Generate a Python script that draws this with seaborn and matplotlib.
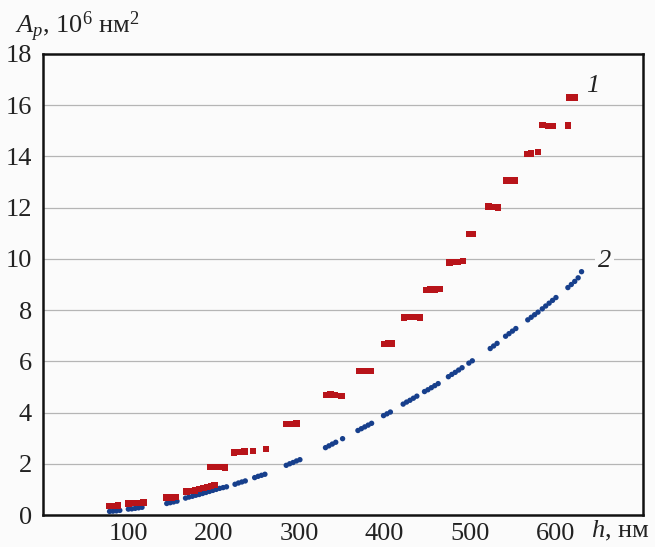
import matplotlib
matplotlib.use("Agg")
import matplotlib.pyplot as plt
import seaborn as sns
import pandas as pd

# Series 1 (red squares): indentation depth h, nm  -> projected area, 10^6 nm^2
h1 = [78, 83, 88,
      100, 106, 112, 118,
      145, 151, 156,
      168, 173, 178, 183, 188, 193, 197, 201,
      196, 201, 206, 213,
      224, 230, 236, 246, 261,
      285, 291, 297,
      332, 337, 342, 350,
      370, 375, 380, 384,
      400, 405, 409,
      423, 428, 434, 442,
      449, 454, 459, 465,
      476, 481, 486, 492,
      500, 504,
      522, 527, 533,
      543, 548, 553,
      567, 572, 580,
      585, 592, 597, 615,
      617, 623]
a1 = [0.35, 0.36, 0.37,
      0.45, 0.46, 0.47, 0.48,
      0.68, 0.69, 0.70,
      0.92, 0.94, 0.96, 1.02, 1.06, 1.10, 1.14, 1.18,
      1.88, 1.88, 1.88, 1.85,
      2.45, 2.46, 2.47, 2.50, 2.58,
      3.55, 3.56, 3.58,
      4.69, 4.70, 4.68, 4.65,
      5.62, 5.62, 5.63, 5.63,
      6.68, 6.69, 6.70,
      7.72, 7.73, 7.74, 7.72,
      8.79, 8.80, 8.80, 8.82,
      9.86, 9.87, 9.88, 9.92,
      10.97, 10.98,
      12.05, 12.03, 12.00,
      13.07, 13.07, 13.07,
      14.10, 14.12, 14.18,
      15.22, 15.18, 15.18, 15.20,
      16.30, 16.30]

# Series 2 (blue dots)
h2 = [78, 82, 86, 90,
      100, 104, 108, 112, 116,
      145, 149, 153, 157,
      167, 171, 175, 179, 183, 187, 191, 195, 199, 203, 207, 211, 215,
      225, 229, 233, 237,
      248, 252, 256, 260,
      285, 289, 293, 297, 301,
      331, 335, 339, 343, 351,
      369, 373, 377, 381, 385,
      399, 403, 407,
      422, 426, 430, 434, 438,
      447, 451, 455, 459, 463,
      475, 479, 483, 487, 491,
      499, 503,
      524, 528, 532,
      542, 546, 550, 554,
      568, 572, 576, 580,
      585, 589, 593, 597, 601,
      615, 619, 623, 627, 631]
a2 = [0.14, 0.15, 0.16, 0.18,
      0.23, 0.24, 0.26, 0.28, 0.30,
      0.45, 0.48, 0.51, 0.54,
      0.66, 0.70, 0.73, 0.77, 0.80, 0.84, 0.88, 0.92, 0.96, 1.00, 1.04, 1.07, 1.10,
      1.20, 1.25, 1.29, 1.33,
      1.46, 1.51, 1.55, 1.59,
      1.94, 2.00, 2.05, 2.11, 2.16,
      2.63, 2.70, 2.77, 2.84, 2.98,
      3.30, 3.37, 3.44, 3.51, 3.58,
      3.88, 3.95, 4.02,
      4.33, 4.41, 4.48, 4.56, 4.64,
      4.82, 4.89, 4.97, 5.05, 5.13,
      5.40, 5.49, 5.57, 5.66, 5.75,
      5.93, 6.02,
      6.50, 6.60, 6.70,
      6.98, 7.08, 7.18, 7.28,
      7.62, 7.72, 7.82, 7.92,
      8.05, 8.16, 8.27, 8.38, 8.49,
      8.88, 9.00, 9.12, 9.26, 9.50]

x_ticks = [100, 200, 300, 400, 500, 600]
y_ticks = [0, 2, 4, 6, 8, 10, 12, 14, 16, 18]

df1 = pd.DataFrame({"h": h1, "A": a1})
df2 = pd.DataFrame({"h": h2, "A": a2})

sns.set_theme(style="white")
plt.rcParams["font.family"] = ["Liberation Serif", "DejaVu Serif"]
plt.rcParams["mathtext.fontset"] = "custom"
plt.rcParams["mathtext.rm"] = "Liberation Serif"
plt.rcParams["mathtext.it"] = "Liberation Serif:italic"

fig = plt.figure(figsize=(6.55, 5.47), dpi=100)
fig.patch.set_facecolor("#fbfbfb")
ax = fig.add_axes([43 / 655, 1 - 515 / 547, 600 / 655, 461 / 547])
ax.set_facecolor("#fbfbfb")

for y in y_ticks[1:-1]:
    ax.axhline(y, color="#b5b5b5", lw=0.9, zorder=0)

sns.scatterplot(data=df2, x="h", y="A", ax=ax, marker="o", s=15,
                color="#173f8c", edgecolor="none", zorder=3)
sns.scatterplot(data=df1, x="h", y="A", ax=ax, marker="s", s=22,
                color="#b8141a", edgecolor="none", zorder=4)

ax.set_xlim(0, 703)
ax.set_ylim(0, 18)
ax.set_xticks(x_ticks)
ax.set_yticks(y_ticks)
ax.set_xticklabels([str(t) for t in x_ticks])
ax.set_yticklabels([str(t) for t in y_ticks])
ax.tick_params(axis="both", length=0, labelsize=19, colors="#222222", pad=6)
ax.tick_params(axis="y", pad=8)
ax.set_xlabel("")
ax.set_ylabel("")
for sp in ax.spines.values():
    sp.set_color("#111111")
    sp.set_linewidth(1.8)

fig.text(15 / 655, 1 - 27 / 547, r"$A_p$, 10$^6$ нм$^2$", fontsize=19,
         ha="left", va="center", color="#222222")
fig.text(650 / 655, 1 - 531 / 547, r"$h$, нм", fontsize=19,
         ha="right", va="center", color="#222222")

ax.text(636, 16.75, "1", fontsize=19, style="italic", ha="left", va="center",
        color="#222222")
ax.text(658, 9.9, "2", fontsize=19, style="italic", ha="center", va="center",
        color="#222222", bbox=dict(facecolor="#fbfbfb", edgecolor="none", pad=2))

fig.savefig("out.png", dpi=100, facecolor=fig.get_facecolor())
